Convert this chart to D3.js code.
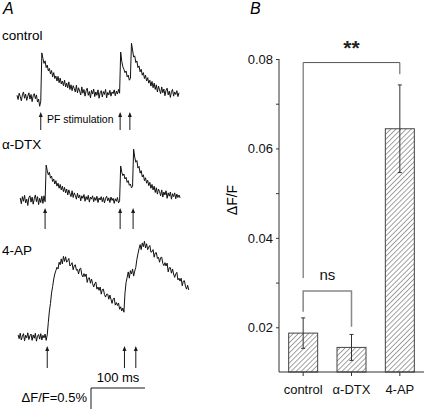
<!DOCTYPE html>
<html><head><meta charset="utf-8">
<script src="https://cdn.jsdelivr.net/npm/d3@7"></script>
<style>
html,body{margin:0;padding:0;background:#fff;}
svg{display:block;font-family:"Liberation Sans",Arial,Helvetica,sans-serif;}
</style></head>
<body>
<svg id="chart" width="425" height="410"></svg>
<script>
// ---------- Panel A data (ΔF/F in %, sampled every 2 ms) ----------
const traceNames = ["control", "α-DTX", "4-AP"];
const traceStart = [0, 6, 2];          // ms of first sample
const traceStep = 2;                   // ms between samples
const controlTrace = [0.04,-0.06,0.09,0.01,-0.09,0.05,0.12,-0.03,0.07,-0.08,
  0.02,0.10,-0.05,0.06,-0.11,0.03,0.08,-0.04,0.05,-0.12,
  -0.05,-0.22,-0.10,1.05,0.92,0.80,0.86,0.70,0.76,0.62,
  0.68,0.55,0.63,0.48,0.58,0.44,0.50,0.38,0.49,0.34,
  0.45,0.31,0.38,0.27,0.40,0.24,0.33,0.22,0.36,0.18,
  0.29,0.15,0.27,0.20,0.12,0.28,0.10,0.22,0.14,0.05,
  0.24,0.09,0.18,0.02,0.15,0.21,0.04,0.13,-0.02,0.16,
  0.07,0.19,0.01,0.12,0.04,0.17,-0.03,0.10,0.15,0.00,
  0.13,0.06,0.18,-0.02,0.11,0.05,0.16,0.02,0.12,0.08,
  0.17,0.03,0.14,0.07,0.18,0.09,1.07,0.85,0.72,0.66,
  0.58,0.62,0.48,0.52,0.40,0.44,1.28,1.12,0.95,0.98,
  0.82,0.86,0.70,0.74,0.60,0.66,0.52,0.58,0.44,0.52,
  0.38,0.46,0.33,0.40,0.26,0.37,0.22,0.33,0.18,0.29,
  0.12,0.26,0.17,0.08,0.24,0.10,0.19,0.03,0.16,0.21,
  0.05,0.14,-0.01,0.13,0.18,0.02,0.12,0.06,0.15,0.01,0.10];
const dtxTrace = [0.05,-0.09,0.08,-0.03,0.11,-0.07,0.02,-0.13,0.06,0.10,
  -0.05,0.07,-0.10,0.03,0.12,-0.04,0.08,-0.11,0.04,-0.06,
  0.09,-0.08,0.10,-0.04,0.83,0.70,0.60,0.66,0.52,0.57,
  0.44,0.50,0.38,0.46,0.33,0.40,0.28,0.37,0.24,0.33,
  0.20,0.30,0.17,0.26,0.12,0.24,0.15,0.08,0.22,0.06,
  0.17,0.11,0.02,0.16,0.05,0.12,-0.02,0.10,0.04,0.13,
  -0.03,0.08,0.01,0.11,-0.05,0.07,0.02,0.10,-0.04,0.06,
  -0.01,0.09,-0.06,0.05,0.00,0.08,-0.04,0.06,-0.07,0.04,
  0.09,-0.02,0.05,-0.06,0.07,-0.01,0.04,-0.08,0.03,-0.03,
  0.06,-0.07,-0.02,0.81,0.66,0.58,0.62,0.50,0.54,0.42,
  0.46,0.35,0.38,0.29,0.32,1.21,1.02,0.90,0.94,0.76,
  0.80,0.64,0.70,0.55,0.60,0.46,0.53,0.40,0.47,0.34,
  0.42,0.28,0.37,0.24,0.33,0.18,0.29,0.14,0.26,0.20,
  0.10,0.24,0.07,0.19,0.12,0.22,0.04,0.17,0.09,0.19,
  0.02,0.15,0.08,0.17,0.03,0.14,0.06,0.12,0.05];
const apTrace = [0.05,-0.04,0.09,-0.07,0.02,0.08,-0.09,0.04,-0.02,0.10,
  -0.06,0.03,0.07,-0.08,0.05,-0.03,0.09,-0.10,0.02,0.06,
  -0.05,0.08,-0.07,0.04,-0.02,0.07,-0.08,0.05,
  0.35,0.62,0.80,1.05,1.20,1.38,1.50,1.58,1.66,1.62,1.78,1.72,1.86,1.74,1.92,1.80,
  1.91,1.78,1.82,1.87,1.69,1.72,1.77,1.60,1.70,1.72,
  1.59,1.61,1.50,1.62,1.64,1.48,1.43,1.51,1.44,1.50,
  1.30,1.40,1.41,1.28,1.38,1.27,1.19,1.27,1.31,1.14,
  1.19,1.11,1.19,1.02,1.13,1.14,1.01,0.95,1.02,1.02,
  0.90,1.00,0.90,0.80,0.90,0.93,0.76,0.82,0.75,0.81,
  0.66,0.72,0.62,0.69,0.59,
  1.05,1.30,1.42,1.55,1.40,1.58,1.50,1.62,1.45,1.57,
  1.66,1.85,1.98,2.10,2.20,2.08,2.24,2.15,2.28,2.12,
  2.22,2.08,2.14,2.18,2.02,2.03,2.08,1.90,2.00,2.01,
  1.87,1.90,1.78,1.89,1.90,1.75,1.70,1.77,1.69,1.76,
  1.55,1.65,1.65,1.52,1.62,1.50,1.42,1.50,1.54,1.36,
  1.40,1.33,1.40,1.22,1.33,1.34,1.21,1.14,1.23,1.12];
const stimTimes = [[44, 191, 209], [52, 191, 215], [56, 199, 220]];
const scaleBarTime = 100;   // ms
const scaleBarDF = 0.5;     // %

// ---------- Panel B data ----------
const categories = ["control", "α-DTX", "4-AP"];
const meanDF = [0.0187, 0.0155, 0.0644];
const semDF = [0.0034, 0.0029, 0.0098];
const yTicksMajor = [0.02, 0.04, 0.06, 0.08];
const yTicksMinor = [0.03, 0.05, 0.07];
const sigStar = {label: "**", from: 0, to: 2, level: 0.0792, leftEnd: 0.0310, rightEnd: 0.0766};
const sigNs = {label: "ns", from: 0, to: 1, level: 0.0281, leftEnd: 0.0235, rightEnd: 0.0201};

const svg = d3.select("#chart");
const ink = "#1a1a1a";
const defs = svg.append("defs");

// ================= Panel A =================
svg.append("text").attr("x", 3).attr("y", 14).attr("font-size", 16).attr("font-style", "italic").text("A");

const xT = d3.scaleLinear().domain([0, 300]).range([17, 179]);
const traces = [controlTrace, dtxTrace, apTrace];
const baseY = [97, 200, 337];
const labelY = [40, 149, 255];
const arrowTip = [112, 208, 346];
const arrowBot = [130, 229, 368];

traces.forEach((vals, k) => {
  const yS = d3.scaleLinear().domain([0, 1]).range([baseY[k], baseY[k] - 42]);
  svg.append("text").attr("x", 2).attr("y", labelY[k]).attr("font-size", 13.5).text(traceNames[k]);
  const line = d3.line().x((d, i) => xT(traceStart[k] + i * traceStep)).y(d => yS(d));
  svg.append("path").datum(vals).attr("d", line).attr("fill", "none")
    .attr("stroke", "#111").attr("stroke-width", 1).attr("stroke-linejoin", "round");
  stimTimes[k].forEach(t => {
    svg.append("line").attr("x1", xT(t)).attr("x2", xT(t))
      .attr("y1", arrowBot[k]).attr("y2", arrowTip[k] + 4)
      .attr("stroke", ink).attr("stroke-width", 1);
    svg.append("path").attr("d", `M${xT(t)-2},${arrowTip[k]+5} L${xT(t)},${arrowTip[k]} L${xT(t)+2},${arrowTip[k]+5} Z`)
      .attr("fill", ink);
  });
  if (k === 0) {
    svg.append("text").attr("x", 47).attr("y", 123).attr("font-size", 10.5).text("PF stimulation");
  }
  if (k === 2) {
    const x0 = 91, y0 = 388;
    const yLen = yS(0) - yS(scaleBarDF);
    const xLen = xT(scaleBarTime) - xT(0);
    svg.append("path").attr("d", `M${x0 + xLen},${y0} H${x0} V${y0 + yLen}`)
      .attr("fill", "none").attr("stroke", ink).attr("stroke-width", 1);
    svg.append("text").attr("x", x0 + xLen / 2).attr("y", 382).attr("text-anchor", "middle")
      .attr("font-size", 13).text(scaleBarTime + " ms");
    svg.append("text").attr("x", x0 - 4).attr("y", 402).attr("text-anchor", "end")
      .attr("font-size", 13).text("ΔF/F=" + scaleBarDF + "%");
  }
});

// ================= Panel B =================
svg.append("text").attr("x", 250).attr("y", 14).attr("font-size", 16).attr("font-style", "italic").text("B");

const y = d3.scaleLinear().domain([0.01, 0.08]).range([372, 59]);
const x = d3.scaleBand().domain(categories).range([279, 424]).paddingInner(0.4).paddingOuter(0.2);
const axisColor = "#333";

const pat = defs.append("pattern").attr("id", "hatch").attr("patternUnits", "userSpaceOnUse")
  .attr("width", 3.6).attr("height", 8).attr("patternTransform", "rotate(45)");
pat.append("line").attr("x1", 0).attr("x2", 0).attr("y1", 0).attr("y2", 8)
  .attr("stroke", "#555").attr("stroke-width", 1.1);

svg.append("g").selectAll("rect").data(categories).join("rect")
  .attr("x", d => x(d)).attr("width", x.bandwidth())
  .attr("y", (d, i) => y(meanDF[i])).attr("height", (d, i) => y(0.01) - y(meanDF[i]))
  .attr("fill", "url(#hatch)").attr("stroke", "#444").attr("stroke-width", 1);

const eb = svg.append("g").attr("stroke", "#333").attr("stroke-width", 1);
categories.forEach((c, i) => {
  const cx = x(c) + x.bandwidth() / 2;
  eb.append("line").attr("x1", cx).attr("x2", cx).attr("y1", y(meanDF[i] + semDF[i])).attr("y2", y(meanDF[i] - semDF[i]));
  eb.append("line").attr("x1", cx - 2).attr("x2", cx + 2).attr("y1", y(meanDF[i] + semDF[i])).attr("y2", y(meanDF[i] + semDF[i]));
  eb.append("line").attr("x1", cx - 2).attr("x2", cx + 2).attr("y1", y(meanDF[i] - semDF[i])).attr("y2", y(meanDF[i] - semDF[i]));
});

const yAxis = svg.append("g").attr("transform", "translate(279,0)")
  .call(d3.axisLeft(y).tickValues(yTicksMajor).tickSize(3).tickPadding(3).tickFormat(d3.format(".2f")));
svg.append("g").attr("transform", "translate(279,0)")
  .call(d3.axisLeft(y).tickValues(yTicksMinor).tickSize(3).tickFormat(""))
  .call(g => g.select(".domain").remove());
svg.selectAll(".tick line").attr("stroke", axisColor);
yAxis.select(".domain").attr("stroke", axisColor).attr("d", `M0,${y(0.08)}V${y(0.01)}`);
yAxis.selectAll("text").attr("font-size", 13).attr("fill", "#111").attr("font-family", "Liberation Sans, Arial, sans-serif");

const xAxis = svg.append("g").attr("transform", `translate(0,${y(0.01)})`)
  .call(d3.axisBottom(x).tickSize(4).tickPadding(9));
xAxis.select(".domain").attr("stroke", axisColor).attr("d", `M279,0H424`);
xAxis.selectAll(".tick line").attr("stroke", axisColor);
xAxis.selectAll("text").attr("font-size", 13).attr("fill", "#111").attr("font-family", "Liberation Sans, Arial, sans-serif");

svg.append("text").attr("transform", "translate(237,200) rotate(-90)").attr("text-anchor", "middle")
  .attr("font-size", 14).text("ΔF/F");

function bracket(s, color, width) {
  const xl = x(categories[s.from]) + x.bandwidth() / 2;
  const xr = x(categories[s.to]) + x.bandwidth() / 2;
  svg.append("path").attr("d", `M${xl},${y(s.leftEnd)} V${y(s.level)} H${xr} V${y(s.rightEnd)}`)
    .attr("fill", "none").attr("stroke", color).attr("stroke-width", width);
  return (xl + xr) / 2;
}
const cStar = bracket(sigStar, "#555", 1);
svg.append("text").attr("x", cStar).attr("y", 55).attr("text-anchor", "middle")
  .attr("font-size", 21).attr("font-weight", "bold").attr("fill", "#222").text(sigStar.label);
const cNs = bracket(sigNs, "#888", 1.5);
svg.append("text").attr("x", cNs).attr("y", 280).attr("text-anchor", "middle")
  .attr("font-size", 15).attr("fill", "#111").text(sigNs.label);
</script>
</body></html>
